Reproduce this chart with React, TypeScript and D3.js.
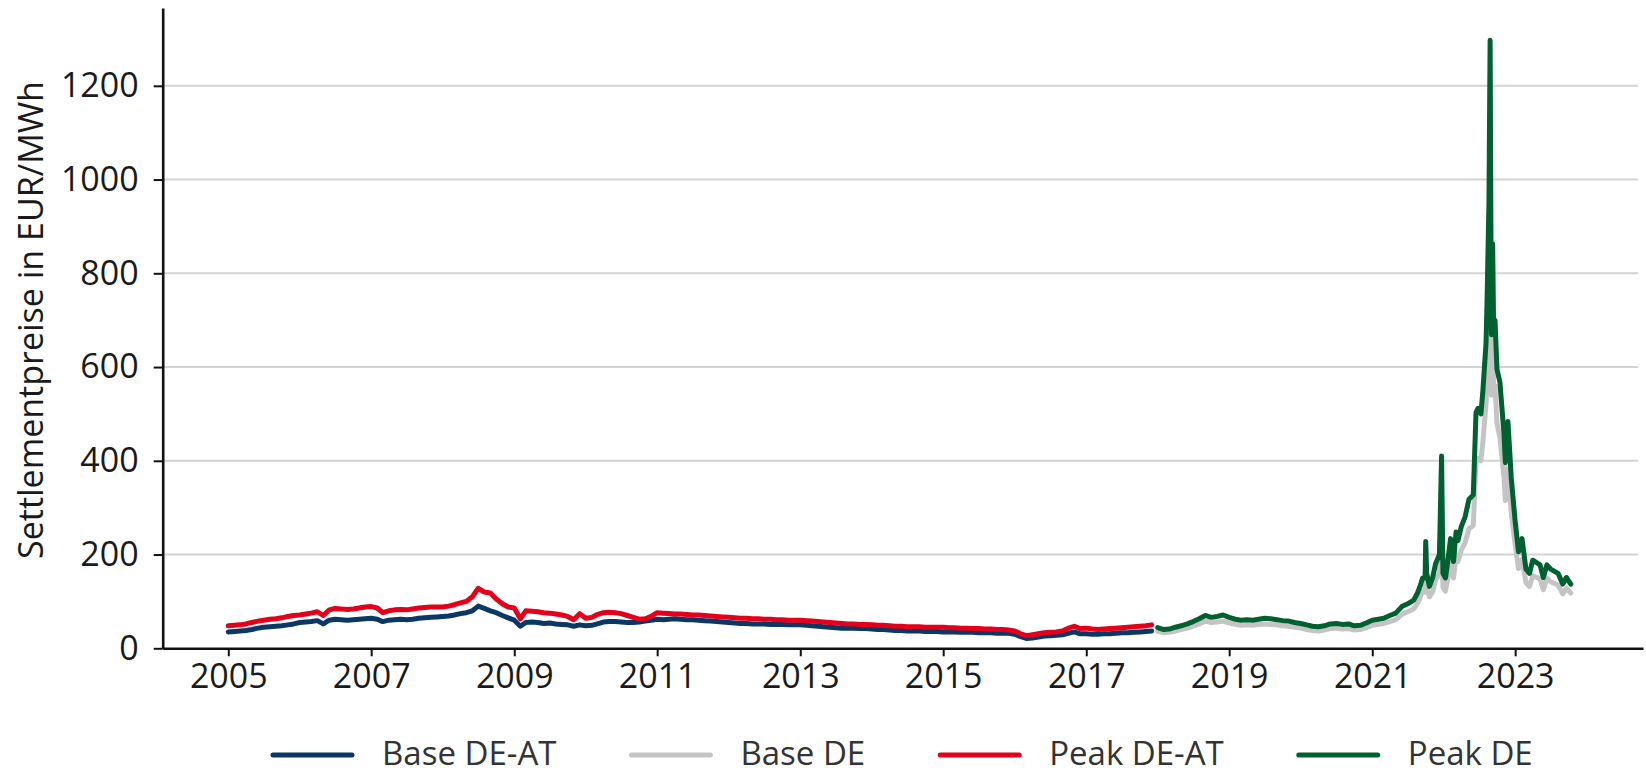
import { useEffect, useRef } from "react";
import * as d3 from "d3";

// Monthly settlement prices, Cal base/peak DE-AT (2005-01 .. 2017-12)
const deatStartYear = 2005;
const baseDeAt = [
  35, 36, 37, 38, 40, 43, 45, 46, 47, 48, 50, 52,
  55, 56, 57, 59, 52, 60, 62, 61, 60, 61, 62, 63,
  64, 62, 57, 60, 61, 62, 61, 62, 64, 65, 66, 67,
  68, 69, 71, 74, 76, 80, 90, 85, 80, 76, 70, 65,
  60, 47, 55, 56, 55, 53, 54, 52, 51, 50, 47, 50,
  48, 49, 52, 56, 57, 57, 56, 55, 55, 56, 58, 60,
  62, 61, 62, 63, 62, 61, 61, 60, 59, 58, 57, 56,
  55, 54, 53, 53, 52, 52, 52, 51, 51, 51, 50, 50,
  50, 49, 48, 47, 46, 45, 44, 43, 43, 43, 42, 42,
  41, 40, 40, 39, 38, 38, 37, 37, 37, 36, 36, 36,
  35, 35, 35, 34, 34, 34, 33, 33, 33, 32, 32, 32,
  30, 25, 21, 22, 24, 26, 27, 28, 29, 32, 35, 31,
  31, 30, 30, 31, 31, 32, 33, 33, 34, 35, 36, 37,
];
const peakDeAt = [
  48, 49, 50, 52, 55, 58, 60, 62, 63, 65, 68, 70,
  71, 73, 75, 78, 70, 82, 85, 84, 83, 84, 86, 88,
  89, 86, 76, 80, 82, 83, 82, 84, 86, 87, 88, 88,
  88, 90, 93, 97, 100, 110, 128, 120, 118, 105, 95, 88,
  86, 63, 80, 79, 78, 76, 75, 73, 71, 68, 61, 74,
  64, 66, 72, 76, 77, 76, 74, 70, 66, 62, 63, 68,
  76, 75, 74, 73, 73, 72, 71, 71, 70, 69, 68, 67,
  66, 65, 64, 64, 63, 63, 62, 62, 61, 61, 60, 60,
  60, 59, 58, 57, 56, 55, 54, 53, 52, 52, 51, 51,
  50, 49, 49, 48, 47, 47, 46, 46, 46, 45, 45, 45,
  45, 44, 44, 43, 43, 42, 42, 41, 41, 40, 40, 39,
  37, 31, 27, 29, 31, 33, 34, 35, 37, 43, 47, 42,
  43, 41, 40, 41, 42, 43, 44, 45, 46, 47, 48, 50,
];

// Monthly Base DE / Peak DE (2018-01 .. 2021-06)
const deStartYear = 2018;
const peakDeMonthly = [
  44, 40, 41, 45, 48, 52, 57, 63, 70, 66, 68, 71,
  66, 62, 60, 61, 60, 62, 64, 63, 61, 59, 58, 55,
  53, 50, 47, 46, 48, 52, 53, 51, 52, 48, 49, 54,
  60, 62, 64, 70, 75, 89,
];
const baseDeMonthly = [
  36, 33, 34, 37, 40, 43, 47, 52, 58, 55, 56, 58,
  54, 51, 49, 50, 49, 51, 52, 51, 50, 48, 47, 45,
  43, 40, 38, 37, 39, 42, 43, 41, 42, 39, 40, 44,
  49, 51, 53, 57, 61, 72,
];

// Energy crisis period, irregular dates
const crisisDates = [
  "2021-07-01", "2021-08-01", "2021-08-20", "2021-09-01", "2021-09-15", "2021-09-28",
  "2021-10-01", "2021-10-06", "2021-10-20", "2021-11-05", "2021-11-20", "2021-12-10",
  "2021-12-21", "2021-12-28", "2022-01-10", "2022-01-20", "2022-02-05", "2022-02-20",
  "2022-03-05", "2022-03-15", "2022-04-01", "2022-04-20", "2022-05-10", "2022-06-01",
  "2022-06-15", "2022-06-25", "2022-07-10", "2022-07-20", "2022-08-05", "2022-08-10",
  "2022-08-20", "2022-08-26", "2022-08-30", "2022-09-02", "2022-09-08", "2022-09-13",
  "2022-09-20", "2022-09-30", "2022-10-15", "2022-11-05", "2022-11-12", "2022-11-25",
  "2022-12-12", "2023-01-01", "2023-01-18", "2023-02-05", "2023-02-25", "2023-03-15",
  "2023-04-01", "2023-05-08", "2023-05-25", "2023-06-12", "2023-07-01", "2023-08-08",
  "2023-09-01", "2023-09-20", "2023-10-12",
];
const peakDeCrisis = [
  95, 103, 118, 131, 150, 150,
  228, 160, 132, 150, 180, 200,
  410, 160, 150, 180, 234, 185,
  248, 230, 260, 280, 318, 327,
  503, 512, 500, 549, 650, 734,
  950, 1297, 900, 669, 863, 679,
  700, 595, 568, 456, 396, 484,
  364, 271, 206, 234, 169, 160,
  188, 178, 151, 178, 169, 160,
  137, 151, 137,
];
const baseDeCrisis = [
  78, 84, 96, 107, 122, 120,
  180, 130, 110, 120, 145, 160,
  320, 130, 122, 145, 185, 150,
  200, 185, 210, 225, 255, 262,
  400, 405, 400, 440, 520, 580,
  750, 995, 700, 540, 680, 545,
  560, 480, 450, 365, 315, 385,
  290, 220, 170, 190, 140, 132,
  155, 148, 125, 150, 142, 135,
  116, 128, 118,
];

const yTicks = [0, 200, 400, 600, 800, 1000, 1200];
const xTickYears = [2005, 2007, 2009, 2011, 2013, 2015, 2017, 2019, 2021, 2023];

const legendItems = [
  { label: "Base DE-AT", color: "#0b3764" },
  { label: "Base DE", color: "#c4c4c4" },
  { label: "Peak DE-AT", color: "#e2001a" },
  { label: "Peak DE", color: "#00602f" },
];

const FONT = "'Open Sans', 'Noto Sans', sans-serif";

export default function App() {
  const ref = useRef<SVGSVGElement | null>(null);

  useEffect(() => {
    const svg = d3.select(ref.current);
    svg.selectAll("*").remove();

    const x = d3.scaleTime()
      .domain([new Date(2004, 1, 1), new Date(2024, 9, 15)])
      .range([162.7, 1643]);
    const y = d3.scaleLinear().domain([0, 1366]).range([648.3, 8]);

    const monthly = (startYear: number, vals: number[]) =>
      vals.map((v, i) => ({ date: new Date(startYear, i, 1), value: v }));

    const crisis = (vals: number[]) =>
      crisisDates.map((d, i) => ({ date: new Date(d), value: vals[i] }));

    const series = [
      { data: monthly(deatStartYear, baseDeAt), color: legendItems[0].color },
      { data: [...monthly(deStartYear, baseDeMonthly), ...crisis(baseDeCrisis)], color: legendItems[1].color },
      { data: monthly(deatStartYear, peakDeAt), color: legendItems[2].color },
      { data: [...monthly(deStartYear, peakDeMonthly), ...crisis(peakDeCrisis)], color: legendItems[3].color },
    ];

    // gridlines
    svg.append("g")
      .selectAll("line")
      .data(yTicks.filter(t => t > 0))
      .enter().append("line")
      .attr("x1", x.range()[0])
      .attr("x2", 1638)
      .attr("y1", d => y(d))
      .attr("y2", d => y(d))
      .attr("stroke", "#d3d3d3")
      .attr("stroke-width", 2);

    // Y axis
    const yAxis = svg.append("g")
      .attr("transform", `translate(${x.range()[0]},0)`)
      .call(d3.axisLeft(y).tickValues(yTicks).tickFormat(d3.format("d") as any)
        .tickSize(9).tickSizeOuter(0).tickPadding(15));
    yAxis.select(".domain").attr("stroke", "#111").attr("stroke-width", 2.6);
    yAxis.selectAll(".tick line").attr("stroke", "#111").attr("stroke-width", 2);
    yAxis.selectAll("text")
      .attr("font-family", FONT)
      .attr("font-size", 34)
      .attr("fill", "#1a1a1a");

    // X axis
    const xAxis = svg.append("g")
      .attr("transform", `translate(0,${y(0)})`)
      .call(d3.axisBottom(x)
        .tickValues(xTickYears.map(yr => new Date(yr, 0, 1)))
        .tickFormat(d3.timeFormat("%Y") as any)
        .tickSize(8).tickSizeOuter(0).tickPadding(8));
    xAxis.select(".domain").attr("stroke", "#111").attr("stroke-width", 2.6);
    xAxis.selectAll(".tick line").attr("stroke", "#111").attr("stroke-width", 2);
    xAxis.selectAll("text")
      .attr("font-family", FONT)
      .attr("font-size", 34)
      .attr("fill", "#1a1a1a");

    // Y axis title
    svg.append("text")
      .attr("transform", "translate(43,320) rotate(-90)")
      .attr("text-anchor", "middle")
      .attr("font-family", FONT)
      .attr("font-size", 34)
      .attr("fill", "#1a1a1a")
      .text("Settlementpreise in EUR/MWh");

    // lines
    const line = d3.line<{ date: Date; value: number }>()
      .x(d => x(d.date))
      .y(d => y(d.value))
      .curve(d3.curveLinear);

    series.forEach(s => {
      svg.append("path")
        .datum(s.data)
        .attr("d", line)
        .attr("fill", "none")
        .attr("stroke", s.color)
        .attr("stroke-width", 5)
        .attr("stroke-linejoin", "round")
        .attr("stroke-linecap", "round");
    });

    // legend
    const lineLen = 79;
    const lineGap = 30;
    const itemGap = 75;
    const legend = svg.append("g");
    const items = legend.selectAll("g")
      .data(legendItems)
      .enter().append("g");
    items.append("line")
      .attr("x1", 0).attr("x2", lineLen)
      .attr("y1", 0).attr("y2", 0)
      .attr("stroke", d => d.color)
      .attr("stroke-width", 5)
      .attr("stroke-linecap", "round");
    items.append("text")
      .attr("x", lineLen + lineGap)
      .attr("y", 10)
      .attr("font-family", FONT)
      .attr("font-size", 33)
      .attr("fill", "#333")
      .text(d => d.label);

    let offset = 0;
    const widths: number[] = [];
    items.each(function () {
      const t = d3.select(this).select("text").node() as SVGTextElement;
      widths.push(lineLen + lineGap + t.getComputedTextLength());
    });
    const total = d3.sum(widths) + itemGap * (widths.length - 1);
    const startX = (x.range()[0] + x.range()[1]) / 2 - total / 2;
    items.attr("transform", (_, i) => {
      const tx = startX + offset;
      offset += widths[i] + itemGap;
      return `translate(${tx},755)`;
    });
  }, []);

  return (
    <svg
      ref={ref}
      width={1646}
      height={776}
      style={{ position: "absolute", left: 0, top: 0, background: "#fff" }}
    />
  );
}
